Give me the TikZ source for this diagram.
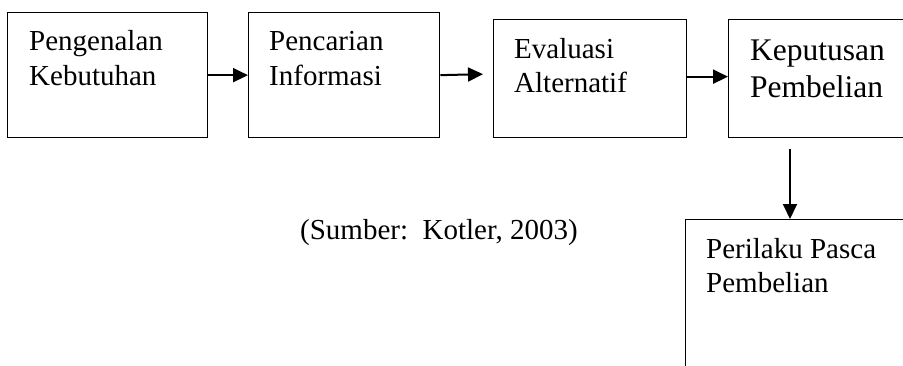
\documentclass[tikz,border=0pt]{standalone}
\usepackage{fontspec}
\setmainfont{Liberation Serif}
\usetikzlibrary{arrows.meta}
\begin{document}
\begin{tikzpicture}[x=1pt,y=-1pt,
  box/.style={draw, line width=1.3pt, inner sep=0pt, anchor=north west},
  lbl/.style={anchor=base west, inner sep=0pt, font=\fontsize{29}{35}\selectfont},
  lblbig/.style={anchor=base west, inner sep=0pt, font=\fontsize{31.5}{37}\selectfont},
  arr/.style={-{Triangle[length=15pt,width=14pt]}, line width=2pt}]
\useasboundingbox (0,0) rectangle (903,365);
\fill[white] (0,0) rectangle (903,365);
\clip (0,0) rectangle (903,365);
% boxes
\node[box, minimum width=200pt, minimum height=125pt] (b1) at (7,12) {};
\node[box, minimum width=191pt, minimum height=125pt] (b2) at (248,12) {};
\node[box, minimum width=193pt, minimum height=118pt] (b3) at (493,19) {};
\node[box, minimum width=250pt, minimum height=118pt] (b4) at (728,19) {};
\node[box, minimum width=250pt, minimum height=200pt] (b5) at (685,219) {};
% texts
\node[lbl] (t1a) at (29,50) {Pengenalan};
\node[lbl] (t1b) at (29,85) {Kebutuhan};
\node[lbl] (t2a) at (269,50) {Pencarian};
\node[lbl] (t2b) at (269,85) {Informasi};
\node[lbl] (t3a) at (514,58) {Evaluasi};
\node[lbl] (t3b) at (514,92) {Alternatif};
\node[lblbig] (t4a) at (750,60) {Keputusan};
\node[lblbig] (t4b) at (750,97) {Pembelian};
\node[lbl] (t5a) at (706,258) {Perilaku Pasca};
\node[lbl] (t5b) at (706,292) {Pembelian};
\node[lbl] (src) at (300,239) {\frenchspacing(Sumber:\ \ Kotler, 2003)};
% connectors
\draw[arr] (b1.east) -- (b2.west);
\coordinate (e3) at ([xshift=-10pt,yshift=1pt]b2.east -| b3.west);
\draw[arr] (b2.east) -- (e3);
\coordinate (s4) at ([yshift=2pt]b3.east);
\draw[arr] (s4) -- (s4 -| b4.west);
\coordinate (d1) at ([xshift=62pt,yshift=-11pt]b4.south west);
\coordinate (d2) at ([xshift=105pt]b5.north west);
\draw[arr] (d1) -- (d2);
\end{tikzpicture}
\end{document}
